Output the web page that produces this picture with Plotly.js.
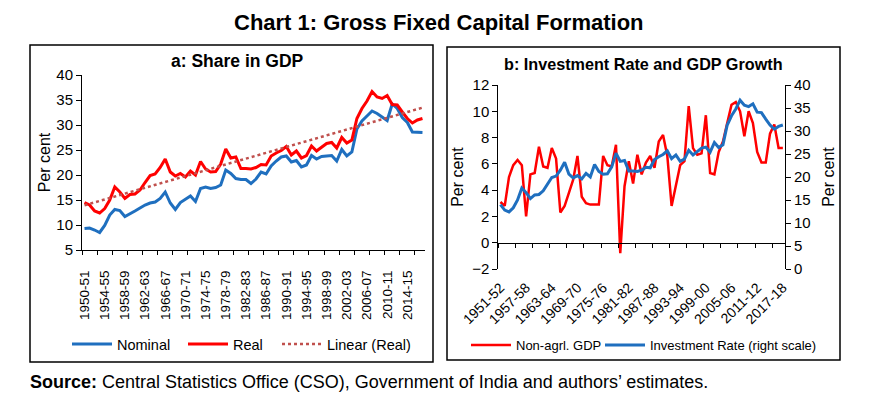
<!DOCTYPE html>
<html><head><meta charset="utf-8">
<script src="https://cdn.plot.ly/plotly-3.0.1.min.js"></script>
<style>html,body{margin:0;padding:0;background:#fff}#chart{width:870px;height:405px}</style>
</head><body><div id="chart"></div>
<script>
// ---- Data ----
const yearsA = ["1950-51","1951-52","1952-53","1953-54","1954-55","1955-56","1956-57","1957-58","1958-59","1959-60",
"1960-61","1961-62","1962-63","1963-64","1964-65","1965-66","1966-67","1967-68","1968-69","1969-70",
"1970-71","1971-72","1972-73","1973-74","1974-75","1975-76","1976-77","1977-78","1978-79","1979-80",
"1980-81","1981-82","1982-83","1983-84","1984-85","1985-86","1986-87","1987-88","1988-89","1989-90",
"1990-91","1991-92","1992-93","1993-94","1994-95","1995-96","1996-97","1997-98","1998-99","1999-00",
"2000-01","2001-02","2002-03","2003-04","2004-05","2005-06","2006-07","2007-08","2008-09","2009-10",
"2010-11","2011-12","2012-13","2013-14","2014-15","2015-16","2016-17","2017-18"];
const nominalShare = [9.3,9.4,9.0,8.5,9.9,12.0,13.1,12.9,11.7,12.2,
12.8,13.4,14.0,14.4,14.6,15.3,16.6,14.4,13.1,14.5,
15.1,15.8,14.7,17.3,17.6,17.3,17.5,18.0,21.0,20.3,
19.3,19.1,19.1,18.3,19.2,20.6,20.2,21.8,22.8,23.6,
23.8,22.6,22.9,21.6,22.0,23.9,23.2,23.7,23.8,23.9,
22.8,25.1,23.8,24.6,29.2,30.8,31.8,32.8,32.3,31.6,
30.9,34.2,33.3,31.5,30.5,28.6,28.5,28.5];
const realShare = [14.5,14.0,12.8,12.4,13.3,15.0,17.6,16.6,15.3,16.1,
16.2,17.0,18.5,19.9,20.2,21.5,23.2,20.6,19.8,20.3,
19.6,20.8,20.0,22.7,21.2,20.6,20.7,22.2,25.2,23.4,
23.6,21.3,21.3,21.2,21.5,22.1,22.0,23.8,24.4,24.9,
25.7,24.0,24.8,23.4,23.9,25.8,24.8,25.6,26.3,26.5,
25.4,27.5,26.4,27.0,31.3,33.3,34.8,36.7,35.6,35.3,
35.9,34.1,34.0,32.6,31.3,30.4,31.0,31.3];
const tickLabelsA = ["1950-51","1954-55","1958-59","1962-63","1966-67","1970-71","1974-75","1978-79",
"1982-83","1986-87","1990-91","1994-95","1998-99","2002-03","2006-07","2010-11","2014-15"];

const yearsB = yearsA.slice(1); // 1951-52 .. 2017-18
const nonAgriGDP = [3.1,2.8,5.0,5.9,6.3,5.9,2.0,5.2,5.3,7.3,
5.8,5.7,7.2,6.4,2.3,2.8,3.8,4.8,6.6,3.5,
3.0,2.9,2.9,2.9,6.6,5.9,5.8,7.45,-0.8,4.3,
6.2,4.5,6.7,5.2,6.1,6.6,5.7,7.7,8.2,6.6,
2.8,4.3,5.9,6.2,10.4,7.2,6.7,6.8,9.7,5.3,
5.2,6.9,7.7,9.1,10.5,10.7,10.0,8.1,10.0,9.1,
6.9,6.1,6.1,8.3,9.0,7.2,7.2];
const investmentRate = [14.0,12.8,12.4,13.3,15.0,17.6,16.6,15.3,16.1,
16.2,17.0,18.5,19.9,20.2,21.5,23.2,20.6,19.8,20.3,
19.6,20.8,20.0,22.7,21.2,20.6,20.7,22.2,25.2,23.4,
23.6,21.3,21.3,21.2,21.5,22.1,22.0,23.8,24.4,24.9,
25.7,24.0,24.8,23.4,23.9,25.8,24.8,25.6,26.3,26.5,
25.4,27.5,26.4,27.0,31.3,33.3,34.8,36.7,35.6,35.3,
35.9,34.1,34.0,32.6,31.3,30.4,31.0,31.3];
const tickLabelsB = ["1951-52","1957-58","1963-64","1969-70","1975-76","1981-82","1987-88","1993-94",
"1999-00","2005-06","2011-12","2017-18"];

// ---- helpers ----
const pos = s => parseInt(s.slice(0,4), 10);
const xA = yearsA.map(pos), xB = yearsB.map(pos);
// least squares linear trend of the real series (Excel "Linear" trendline)
const n = xA.length;
const mx = xA.reduce((a,b)=>a+b,0)/n, my = realShare.reduce((a,b)=>a+b,0)/n;
let sxy=0, sxx=0; for (let i=0;i<n;i++){ sxy+=(xA[i]-mx)*(realShare[i]-my); sxx+=(xA[i]-mx)**2; }
const slope = sxy/sxx, icpt = my - slope*mx;
const trend = xA.map(x => icpt + slope*x);

const W=870, H=405;
const px = x => x/W, py = y => 1 - y/H;
const FONT = 'Arial, "Liberation Sans", sans-serif';
const BLUE = '#1f6fbf', RED = '#ff0000', TREND = '#c0504d';

const traces = [
  {x:xA, y:nominalShare, name:'Nominal', type:'scatter', mode:'lines', line:{color:BLUE, width:3}, xaxis:'x', yaxis:'y', legend:'legend'},
  {x:xA, y:realShare, name:'Real', type:'scatter', mode:'lines', line:{color:RED, width:3}, xaxis:'x', yaxis:'y', legend:'legend3'},
  {x:xA, y:trend, name:'Linear (Real)', type:'scatter', mode:'lines', line:{color:TREND, width:2.5, dash:'dot'}, xaxis:'x', yaxis:'y', legend:'legend4'},
  {x:xB, y:nonAgriGDP, name:'Non-agrl. GDP', type:'scatter', mode:'lines', line:{color:RED, width:2.5}, xaxis:'x2', yaxis:'y2', legend:'legend2'},
  {x:xB, y:investmentRate, name:'Investment Rate (right scale)', type:'scatter', mode:'lines', line:{color:BLUE, width:3}, xaxis:'x2', yaxis:'y3', legend:'legend5'}
];

const tickFont = {family:FONT, size:15, color:'#000'};
const titleFont = {family:FONT, size:16, color:'#000'};
const legendAt = (x, y, size) => ({orientation:'h', x:px(x), y:py(y), xanchor:'left', yanchor:'top',
  bgcolor:'rgba(0,0,0,0)', font:{family:FONT, size:size, color:'#000'}, itemwidth:40});
const layout = {
  width:W, height:H, margin:{l:0,r:0,t:0,b:0},
  paper_bgcolor:'#fff', plot_bgcolor:'#fff',
  font:{family:FONT, color:'#000'},
  showlegend:true,
  xaxis:{domain:[px(82), px(425)], anchor:'y', range:[1949.5, 2017.5],
    tickmode:'array', tickvals:tickLabelsA.map(pos), ticktext:tickLabelsA, tickangle:-90,
    ticks:'', tickfont:{family:FONT, size:13.5, color:'#000'}, ticklabelstandoff:14,
    showline:true, linecolor:'#000', linewidth:1, showgrid:false, zeroline:false,
    minor:{ticks:'outside', tickmode:'linear', tick0:1949.5, dtick:3, ticklen:4, tickcolor:'#000', showgrid:false}},
  yaxis:{domain:[py(250), py(75)], anchor:'x', range:[5,40], dtick:5, ticks:'outside', ticklen:5, tickcolor:'#000',
    tickfont:tickFont, showline:true, linecolor:'#000', linewidth:1, showgrid:false, zeroline:false,
    title:{text:'Per cent', font:titleFont, standoff:1}},
  xaxis2:{domain:[px(498.3), px(785)], anchor:'free', position:py(243), range:[1950.5, 2017.5],
    tickmode:'array', tickvals:tickLabelsB.map(pos), ticktext:tickLabelsB, tickangle:-45,
    ticks:'', tickfont:{family:FONT, size:14, color:'#000'}, ticklabelstandoff:30,
    showline:true, linecolor:'#000', linewidth:1, showgrid:false, zeroline:false,
    minor:{ticks:'outside', tickmode:'linear', tick0:1950.5, dtick:4, ticklen:4, tickcolor:'#000', showgrid:false}},
  yaxis2:{domain:[py(269), py(85)], anchor:'x2', range:[-2,12], dtick:2, ticks:'outside', ticklen:5, tickcolor:'#000',
    tickfont:tickFont, showline:true, linecolor:'#000', linewidth:1, showgrid:false, zeroline:false,
    title:{text:'Per cent', font:titleFont, standoff:4}},
  yaxis3:{overlaying:'y2', side:'right', anchor:'x2', range:[0,40], dtick:5, ticks:'outside', ticklen:5, tickcolor:'#000',
    tickfont:tickFont, showline:true, linecolor:'#000', linewidth:1, showgrid:false, zeroline:false,
    title:{text:'Per cent', font:titleFont, standoff:13}},
  legend:legendAt(67, 328, 14.5),
  legend3:legendAt(183, 328, 14.5),
  legend4:legendAt(277, 328, 14.5),
  legend2:legendAt(466, 330, 13),
  legend5:legendAt(600, 330, 13),
  shapes:[
    {type:'rect', xref:'paper', yref:'paper', x0:px(30), x1:px(433), y0:py(362), y1:py(45), line:{color:'#000', width:1.5}},
    {type:'rect', xref:'paper', yref:'paper', x0:px(447), x1:px(840), y0:py(360), y1:py(47), line:{color:'#000', width:1.5}}
  ],
  annotations:[
    {text:'<b>Chart 1: Gross Fixed Capital Formation</b>', xref:'paper', yref:'paper', x:px(439), y:py(22),
      xanchor:'center', yanchor:'middle', showarrow:false, font:{family:FONT, size:22, color:'#000'}},
    {text:'<b>a: Share in GDP</b>', xref:'paper', yref:'paper', x:px(237), y:py(61),
      xanchor:'center', yanchor:'middle', showarrow:false, font:{family:FONT, size:17.5, color:'#000'}},
    {text:'<b>b: Investment Rate and GDP Growth</b>', xref:'paper', yref:'paper', x:px(643), y:py(64),
      xanchor:'center', yanchor:'middle', showarrow:false, font:{family:FONT, size:16.2, color:'#000'}},
    {text:'<b>Source:</b> Central Statistics Office (CSO), Government of India and authors\u2019 estimates.', xref:'paper', yref:'paper',
      x:px(28), y:py(382), xanchor:'left', yanchor:'middle', showarrow:false, font:{family:FONT, size:18, color:'#000'}}
  ]
};
Plotly.newPlot('chart', traces, layout, {displayModeBar:false, staticPlot:true});
</script></body></html>
